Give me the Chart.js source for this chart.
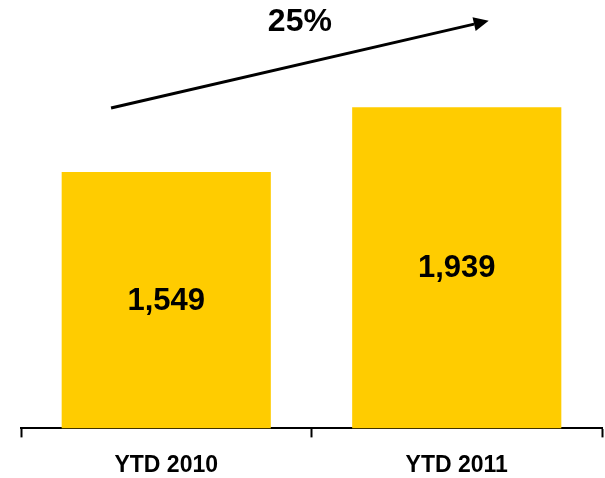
<!DOCTYPE html>
<html>
<head>
<meta charset="utf-8">
<script src="https://cdn.jsdelivr.net/npm/chart.js@4.4.0/dist/chart.umd.min.js"></script>
<style>
  html, body { margin: 0; padding: 0; background: #fff; }
  #wrap { width: 605px; height: 478px; }
</style>
</head>
<body>
<div id="wrap"><canvas id="myChart" width="605" height="478"></canvas></div>
<script>
// datos
const categorias = ['YTD 2010', 'YTD 2011'];
const valores = [1549, 1939];
const yMax = 2400;

// flecha de crecimiento (en unidades de los ejes: indice de categoria, valor)
const flechaDesde = [-0.19, 1935];
const flechaHasta = [1.11, 2462];
const crecimiento = Math.round((valores[1] / valores[0] - 1) * 100);

const fuente = '"Liberation Sans", Arial, sans-serif';

const etiquetasPlugin = {
    id: 'etiquetas',
    afterDatasetsDraw(chart) {
        const ctx = chart.ctx;
        const meta = chart.getDatasetMeta(0);
        const x = chart.scales.x;
        const y = chart.scales.y;

        ctx.save();
        // valores dentro de las barras
        ctx.fillStyle = '#000';
        ctx.font = 'bold 31px ' + fuente;
        ctx.textAlign = 'center';
        ctx.textBaseline = 'middle';
        meta.data.forEach(function(bar, i) {
            const medio = (bar.y + bar.base) / 2;
            ctx.fillText(valores[i].toLocaleString('en-US'), bar.x, medio + 1);
        });

        // flecha
        const x1 = x.getPixelForValue(flechaDesde[0]);
        const y1 = y.getPixelForValue(flechaDesde[1]);
        const x2 = x.getPixelForValue(flechaHasta[0]);
        const y2 = y.getPixelForValue(flechaHasta[1]);
        const ang = Math.atan2(y2 - y1, x2 - x1);
        const largo = 15, ancho = 7;

        ctx.strokeStyle = '#000';
        ctx.lineWidth = 3;
        ctx.beginPath();
        ctx.moveTo(x1, y1);
        ctx.lineTo(x2 - Math.cos(ang) * largo, y2 - Math.sin(ang) * largo);
        ctx.stroke();

        ctx.beginPath();
        ctx.moveTo(x2, y2);
        ctx.lineTo(x2 - Math.cos(ang) * largo - Math.sin(ang) * ancho,
                   y2 - Math.sin(ang) * largo + Math.cos(ang) * ancho);
        ctx.lineTo(x2 - Math.cos(ang) * largo + Math.sin(ang) * ancho,
                   y2 - Math.sin(ang) * largo - Math.cos(ang) * ancho);
        ctx.closePath();
        ctx.fill();

        // porcentaje sobre la flecha
        ctx.font = 'bold 32px ' + fuente;
        ctx.fillText(crecimiento + '%', x.getPixelForValue(0.46), y.getPixelForValue(flechaHasta[1]) + 1);
        ctx.restore();
    }
};

/* Grafico */
var ctx = document.querySelector('#myChart');
var myChart = new Chart(ctx, {
    type: 'bar',
    data: {
        labels: categorias,
        datasets: [{
            data: valores,
            backgroundColor: '#FFCC00',
            borderWidth: 0,
            barPercentage: 0.72,
            categoryPercentage: 1
        }]
    },
    options: {
        responsive: false,
        animation: false,
        layout: {
            padding: { top: 31, left: 21, right: 3, bottom: -15 }
        },
        plugins: {
            legend: { display: false },
            tooltip: { enabled: false }
        },
        scales: {
            x: {
                offset: true,
                grid: {
                    offset: true,
                    drawOnChartArea: false,
                    drawTicks: true,
                    tickLength: 9,
                    tickWidth: 2,
                    tickColor: '#000'
                },
                border: { display: true, color: '#000', width: 2 },
                ticks: {
                    color: '#000',
                    padding: 14,
                    font: { family: fuente, size: 23, weight: 'bold' }
                }
            },
            y: {
                display: false,
                min: 0,
                max: yMax
            }
        }
    },
    plugins: [etiquetasPlugin]
});
</script>
</body>
</html>
